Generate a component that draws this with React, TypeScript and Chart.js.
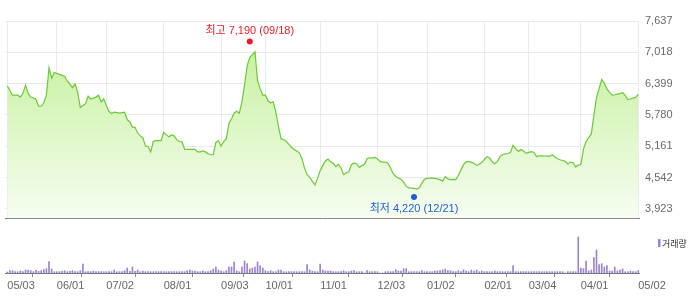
import React, { useEffect, useRef } from 'react';
import { Chart, registerables } from 'chart.js';

Chart.register(...registerables);

// Trading-day index of each month tick and its label (2018-05-03 .. 2019-05-02)
const tickDays = [0, 19, 38, 60, 82, 99, 120, 142, 161, 183, 200, 220, 242];
const tickLabels = ['05/03', '06/01', '07/02', '08/01', '09/03', '10/01', '11/01', '12/03', '01/02', '02/01', '03/04', '04/01', '05/02'];
const priceTicks = [3923, 4542, 5161, 5780, 6399, 7018, 7637];

// Closing price vertices: trading-day index and value
const closeDays = [
  0, 2, 3, 4, 5, 6, 7, 8, 9, 11, 12, 13, 14, 15, 16, 17, 18, 20, 21, 22, 23, 24, 25, 26, 27, 28, 29, 30,
  31, 32, 34, 35, 36, 37, 38, 39, 40, 41, 43, 45, 46, 47, 48, 49, 50, 51, 52, 53, 54, 55, 56, 57, 59, 60,
  61, 62, 63, 64, 65, 66, 67, 68, 70, 72, 73, 74, 75, 76, 77, 78, 79, 80, 81, 82, 83, 84, 85, 86, 87, 88,
  89, 90, 91, 92, 93, 94, 95, 96, 97, 98, 99, 100, 101, 102, 103, 104, 105, 106, 107, 108, 109, 110, 111,
  112, 113, 114, 115, 116, 117, 118, 119, 120, 121, 122, 123, 124, 125, 126, 127, 128, 129, 130, 131, 132,
  133, 134, 135, 136, 137, 138, 139, 140, 141, 142, 143, 144, 145, 146, 147, 148, 149, 150, 151, 152, 153,
  154, 155, 156, 157, 158, 159, 160, 161, 162, 163, 164, 165, 166, 167, 168, 169, 170, 171, 172, 173, 174,
  175, 176, 177, 178, 179, 180, 181, 182, 183, 184, 185, 186, 187, 188, 189, 190, 191, 192, 193, 194, 195,
  196, 197, 198, 199, 200, 201, 202, 203, 204, 205, 206, 207, 208, 209, 210, 211, 212, 213, 214, 215, 216,
  217, 218, 219, 220, 221, 222, 223, 224, 225, 226, 227, 228, 229, 230, 231, 232, 233, 234, 235, 236, 237,
  238, 239, 240, 241, 242,
];
const closeValues = [
  6357, 6171, 6171, 6171, 6133, 6208, 6370, 6208, 6133, 6096, 5952, 5952, 6021, 6171, 6712, 6507, 6619, 6582,
  6563, 6544, 6451, 6395, 6320, 6395, 6227, 5928, 5965, 6003, 6152, 6096, 6133, 6171, 6040, 6096, 5965, 5853,
  5810, 5834, 5816, 5834, 5685, 5648, 5541, 5536, 5423, 5367, 5330, 5162, 5162, 5050, 5255, 5274, 5274, 5437,
  5386, 5349, 5386, 5367, 5293, 5255, 5250, 5106, 5100, 5100, 5050, 5050, 5068, 5050, 5012, 4994, 4994, 5237,
  5274, 5162, 5255, 5311, 5610, 5704, 5816, 5853, 5816, 6040, 6375, 6750, 6918, 6974, 7030, 6450, 6300, 6171,
  6171, 6059, 6021, 6040, 5835, 5555, 5311, 5293, 5255, 5200, 5143, 5097, 5068, 5031, 4919, 4732, 4601, 4545,
  4471, 4396, 4527, 4676, 4779, 4872, 4910, 4854, 4826, 4760, 4807, 4732, 4601, 4639, 4657, 4798, 4831, 4816,
  4742, 4779, 4807, 4919, 4934, 4928, 4941, 4910, 4863, 4850, 4850, 4826, 4732, 4620, 4564, 4536, 4508, 4452,
  4368, 4340, 4336, 4331, 4316, 4340, 4433, 4508, 4527, 4531, 4532, 4527, 4517, 4502, 4471, 4564, 4517, 4502,
  4508, 4502, 4583, 4695, 4798, 4854, 4863, 4844, 4826, 4783, 4807, 4844, 4900, 4956, 4928, 4854, 4816, 4863,
  4956, 5000, 5012, 5018, 5040, 5181, 5115, 5059, 5096, 5068, 5022, 5040, 5054, 5040, 4960, 4971, 4973, 4969,
  4966, 4966, 4994, 4947, 4914, 4895, 4880, 4863, 4811, 4848, 4835, 4755, 4788, 4799, 5106, 5255, 5334, 5405,
  5778, 6124, 6301, 6483, 6408, 6296, 6227, 6171, 6180, 6193, 6202, 6219, 6171, 6086, 6096, 6115, 6128, 6189,
];

// Daily volume (one value per trading day, index 0..242)
const volumes = [
  100, 230, 230, 130, 130, 200, 130, 300, 300, 230, 130, 300, 170, 230, 330, 430, 1130, 400, 130, 130,
  130, 170, 230, 130, 170, 230, 130, 130, 230, 900, 130, 130, 130, 200, 130, 130, 130, 130, 130, 130,
  130, 300, 130, 130, 130, 230, 500, 170, 600, 170, 300, 130, 200, 130, 130, 130, 130, 130, 130, 130,
  130, 130, 130, 130, 130, 130, 130, 130, 130, 230, 300, 200, 200, 130, 130, 200, 130, 130, 230, 400,
  600, 300, 200, 130, 230, 600, 600, 1100, 200, 130, 600, 1200, 930, 400, 500, 600, 1100, 730, 500, 230,
  130, 230, 130, 130, 300, 300, 130, 130, 130, 130, 130, 130, 130, 130, 130, 830, 300, 170, 130, 130,
  900, 300, 200, 200, 200, 130, 130, 130, 130, 230, 130, 130, 200, 230, 130, 130, 130, 0, 230, 130,
  130, 130, 130, 0, 0, 130, 130, 130, 130, 330, 200, 200, 430, 430, 130, 130, 130, 130, 130, 230,
  130, 130, 130, 130, 200, 200, 230, 300, 400, 230, 230, 130, 130, 230, 130, 330, 200, 130, 300, 200,
  300, 130, 200, 130, 130, 130, 130, 200, 130, 130, 130, 130, 130, 130, 730, 130, 130, 130, 130, 130,
  130, 130, 130, 130, 130, 130, 130, 130, 130, 130, 130, 130, 130, 130, 0, 130, 130, 130, 130, 3600,
  500, 430, 1200, 200, 300, 1530, 2300, 830, 930, 600, 730, 200, 200, 600, 200, 300, 400, 130, 130, 200,
  130, 130, 230,
];

// High / low markers
const markerDays = [93, 156];
const markerValues = [7190, 4220];
const markerLabels = ['최고 7,190 (09/18)', '최저 4,220 (12/21)'];
const markerColors = ['#ee1b24', '#1a63cf'];

const volumeLegend = '거래량';

const FONT = "'Liberation Sans', Arial, sans-serif";
const X_MIN = -0.88;
const X_MAX = 242.3;
const GRID = '#e9e9e9';
const VOL_COLOR = '#9a84cc';

const setTicks = (scale: any) => {
  scale.ticks = tickDays.map((v) => ({ value: v }));
};
const tickLabel = (value: any) => {
  const i = tickDays.indexOf(Number(value));
  return i >= 0 ? tickLabels[i] : '';
};

const markersPlugin = {
  id: 'markers',
  afterDatasetsDraw(chart: any) {
    const { ctx, scales } = chart;
    const x = scales.x;
    const y = scales.y;
    ctx.save();
    ctx.font = `11px 'Liberation Sans', 'Noto Sans CJK KR', sans-serif`;
    ctx.textAlign = 'center';
    ctx.textBaseline = 'middle';
    markerDays.forEach((d, i) => {
      const px = x.getPixelForValue(d);
      const isHigh = i === 0;
      const py = y.getPixelForValue(markerValues[i]) + (isHigh ? -2 : 3);
      ctx.fillStyle = markerColors[i];
      ctx.beginPath();
      ctx.arc(px, py, 3, 0, Math.PI * 2);
      ctx.fill();
      ctx.fillText(markerLabels[i], px, py + (isHigh ? -11 : 12));
    });
    ctx.restore();
  },
};

const legendPlugin = {
  id: 'volLegend',
  afterDraw(chart: any) {
    const { ctx } = chart;
    ctx.save();
    ctx.fillStyle = VOL_COLOR;
    ctx.fillRect(658, 8, 2.5, 8);
    ctx.fillStyle = '#333';
    ctx.font = `9px 'Noto Sans CJK KR', sans-serif`;
    ctx.textAlign = 'left';
    ctx.textBaseline = 'middle';
    ctx.fillText(volumeLegend, 662, 12.5);
    ctx.restore();
  },
};

export default function App() {
  const priceRef = useRef<HTMLCanvasElement>(null);
  const volRef = useRef<HTMLCanvasElement>(null);

  useEffect(() => {
    Chart.defaults.font.family = FONT;
    const priceChart = new Chart(priceRef.current as HTMLCanvasElement, {
      type: 'line',
      data: {
        datasets: [
          {
            data: closeDays.map((d, i) => ({ x: d, y: closeValues[i] })),
            borderColor: '#6cc936',
            borderWidth: 1.2,
            pointRadius: 0,
            tension: 0,
            fill: 'start',
            backgroundColor: (c: any) => {
              const { chart } = c;
              const area = chart.chartArea;
              if (!area) return 'rgba(200,240,160,0.6)';
              const g = chart.ctx.createLinearGradient(0, area.top, 0, area.bottom);
              g.addColorStop(0, '#bfef92');
              g.addColorStop(1, '#f7fdf2');
              return g;
            },
          },
        ],
      },
      options: {
        animation: false,
        responsive: false,
        devicePixelRatio: 1,
        layout: { padding: { top: 21, left: 5, right: 0, bottom: 1 } },
        plugins: { legend: { display: false }, tooltip: { enabled: false } },
        scales: {
          x: {
            type: 'linear',
            min: X_MIN,
            max: X_MAX,
            afterBuildTicks: setTicks,
            ticks: { display: false, autoSkip: false },
            grid: { color: GRID, drawTicks: false },
            border: { display: true, color: '#7a7a7a', width: 1 },
          },
          y: {
            position: 'right',
            min: 3736,
            max: 7637,
            afterBuildTicks: (s: any) => {
              s.ticks = priceTicks.map((v) => ({ value: v }));
            },
            afterFit: (s: any) => {
              s.width = 58;
            },
            ticks: {
              padding: 6,
              color: '#6a6a6a',
              font: { size: 11, family: FONT },
              callback: (v: any) => Number(v).toLocaleString('en-US'),
            },
            grid: { color: GRID, drawTicks: false },
            border: { display: false },
          },
        },
      } as any,
      plugins: [markersPlugin],
    });

    const volChart = new Chart(volRef.current as HTMLCanvasElement, {
      type: 'bar',
      data: {
        datasets: [
          {
            data: volumes.map((v, i) => ({ x: i, y: v })),
            backgroundColor: VOL_COLOR,
            barThickness: 1,
          },
        ],
      },
      options: {
        animation: false,
        responsive: false,
        devicePixelRatio: 1,
        layout: { padding: { top: 0, left: 5, right: 0, bottom: 0 } },
        plugins: { legend: { display: false }, tooltip: { enabled: false } },
        scales: {
          x: {
            type: 'linear',
            offset: false,
            min: X_MIN,
            max: X_MAX,
            afterBuildTicks: setTicks,
            afterFit: (s: any) => {
              s.height = 26;
            },
            ticks: {
              autoSkip: false,
              maxRotation: 0,
              align: 'start',
              padding: 2,
              color: '#666',
              font: { size: 11, family: FONT },
              callback: tickLabel,
            },
            grid: { drawOnChartArea: false, drawTicks: true, tickLength: 4, tickColor: '#8a8a8a' },
            border: { display: true, color: '#7a7a7a', width: 1 },
          },
          y: {
            position: 'right',
            min: 0,
            max: 4200,
            afterFit: (s: any) => {
              s.width = 58;
            },
            ticks: { display: false },
            grid: { display: false },
            border: { display: false },
          },
        },
      } as any,
      plugins: [legendPlugin],
    });

    return () => {
      priceChart.destroy();
      volChart.destroy();
    };
  }, []);

  return (
    <div style={{ position: 'absolute', left: 0, top: 0, width: 697, height: 299, background: '#fff' }}>
      <canvas ref={priceRef} width={697} height={231} style={{ position: 'absolute', left: 0, top: 0, width: 697, height: 231 }} />
      <canvas ref={volRef} width={697} height={68} style={{ position: 'absolute', left: 0, top: 231, width: 697, height: 68 }} />
    </div>
  );
}
